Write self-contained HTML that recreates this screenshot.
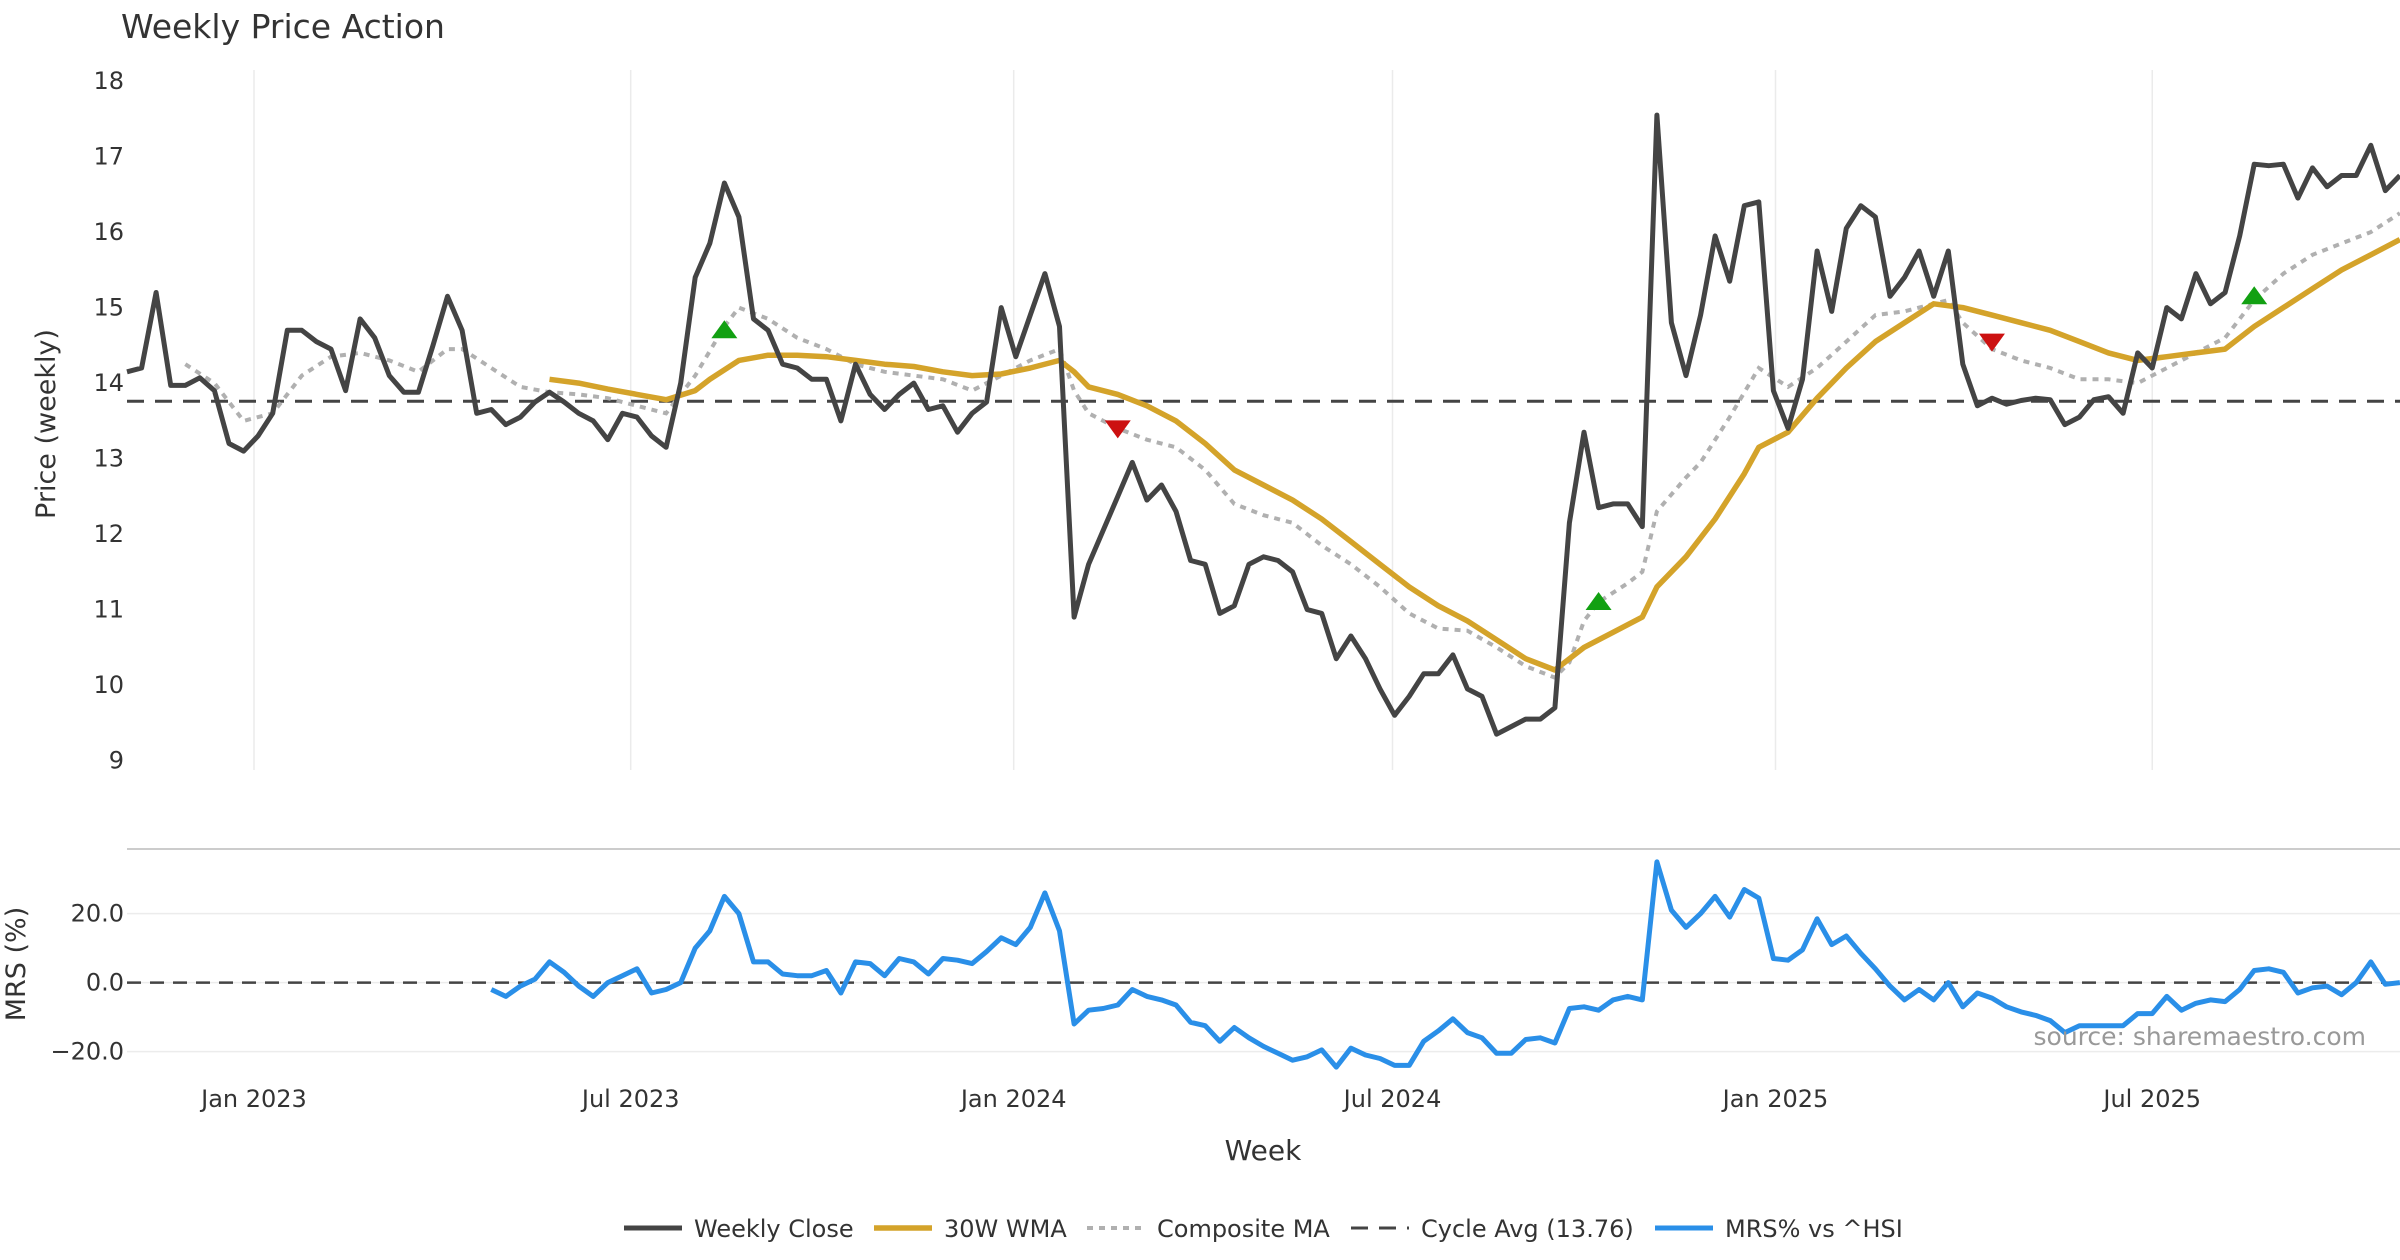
<!DOCTYPE html>
<html><head><meta charset="utf-8"><style>
html,body{margin:0;padding:0;background:#fff;}
svg{display:block;font-family:"DejaVu Sans","Liberation Sans",sans-serif;}
</style></head>
<body>
<svg id="chart" width="2400" height="1260" viewBox="0 0 2400 1260" xmlns="http://www.w3.org/2000/svg">
<text x="121" y="38" font-size="33" fill="#333">Weekly Price Action</text>
<text x="0" y="0" font-size="27" fill="#333" text-anchor="middle" transform="translate(55,424) rotate(-90)">Price (weekly)</text>
<text x="0" y="0" font-size="27" fill="#333" text-anchor="middle" transform="translate(25,964) rotate(-90)">MRS (%)</text>
<text x="1263" y="1160" font-size="28" fill="#333" text-anchor="middle">Week</text>
<line x1="127" y1="849" x2="2400" y2="849" stroke="#ccc" stroke-width="2"/>
<g id="grid"></g>
<g id="series"></g>
<text x="2366" y="1045" font-size="25" fill="#999" text-anchor="end">source: sharemaestro.com</text>
<g id="legend"></g>
</svg>
<script>
const closeVals=[14.15,14.2,15.2,13.97,13.97,14.07,13.9,13.2,13.1,13.3,13.6,14.7,14.7,14.55,14.45,13.9,14.85,14.6,14.1,13.88,13.88,14.5,15.15,14.7,13.6,13.65,13.45,13.55,13.75,13.88,13.75,13.6,13.5,13.25,13.6,13.55,13.3,13.15,14.0,15.4,15.85,16.65,16.2,14.85,14.7,14.25,14.2,14.05,14.05,13.5,14.25,13.85,13.65,13.85,14.0,13.65,13.7,13.35,13.6,13.75,15.0,14.35,14.9,15.45,14.75,10.9,11.6,12.05,12.5,12.95,12.45,12.65,12.3,11.65,11.6,10.95,11.05,11.6,11.7,11.65,11.5,11.0,10.95,10.35,10.65,10.35,9.95,9.6,9.85,10.15,10.15,10.4,9.95,9.85,9.35,9.45,9.55,9.55,9.7,12.15,13.35,12.35,12.4,12.4,12.1,17.55,14.8,14.1,14.9,15.95,15.35,16.35,16.4,13.9,13.4,14.05,15.75,14.95,16.05,16.35,16.2,15.15,15.4,15.75,15.15,15.75,14.25,13.7,13.8,13.72,13.77,13.8,13.78,13.45,13.55,13.78,13.82,13.6,14.4,14.2,15.0,14.85,15.45,15.05,15.2,15.95,16.9,16.88,16.9,16.45,16.85,16.6,16.75,16.75,17.15,16.55,16.75];
const wmaWeeks=[29,31,33,35,37,39,40,42,44,46,48,50,52,54,56,58,60,62,64,65,66,68,70,72,74,76,78,80,82,84,86,88,90,92,94,96,98,100,102,104,105,107,109,111,112,114,116,118,120,122,124,126,128,130,132,134,136,138,140,142,144,146,148,150,152,154,156];
const wmaVals=[14.05,14.0,13.92,13.85,13.78,13.9,14.05,14.3,14.37,14.37,14.35,14.3,14.25,14.22,14.15,14.1,14.12,14.2,14.3,14.15,13.95,13.85,13.7,13.5,13.2,12.85,12.65,12.45,12.2,11.9,11.6,11.3,11.05,10.85,10.6,10.35,10.2,10.5,10.7,10.9,11.3,11.7,12.2,12.8,13.15,13.35,13.8,14.2,14.55,14.8,15.05,15.0,14.9,14.8,14.7,14.55,14.4,14.3,14.35,14.4,14.45,14.75,15.0,15.25,15.5,15.7,15.9];
const compWeeks=[4,6,8,10,12,14,16,18,20,22,23,25,27,29,31,33,35,37,39,41,42,44,46,48,50,52,54,56,58,60,62,64,65,66,68,70,72,74,76,78,80,82,84,86,88,90,92,94,96,98,99,100,101,103,104,105,107,108,110,112,114,116,118,120,122,124,125,126,128,130,132,134,136,138,140,142,144,146,148,150,152,154,156];
const compVals=[14.25,14.0,13.5,13.6,14.1,14.35,14.4,14.3,14.15,14.45,14.45,14.2,13.95,13.88,13.85,13.8,13.7,13.6,14.1,14.75,15.0,14.85,14.6,14.45,14.25,14.15,14.1,14.05,13.9,14.1,14.3,14.45,13.9,13.6,13.4,13.25,13.15,12.85,12.4,12.25,12.15,11.85,11.6,11.3,10.95,10.75,10.72,10.5,10.25,10.1,10.3,10.85,11.1,11.35,11.5,12.3,12.75,12.95,13.55,14.2,13.95,14.2,14.55,14.9,14.95,15.05,15.1,14.8,14.45,14.3,14.2,14.05,14.05,14.0,14.2,14.4,14.6,15.1,15.45,15.7,15.85,16.0,16.25];
const mrsStart=25;
const mrsVals=[-2,-4,-1,1,6,3,-1,-4,0,2,4,-3,-2,0,10,15,25,20,6,6,2.5,2,2,3.5,-3,6,5.5,2,7,6,2.5,7,6.5,5.5,9,13,11,16,26,15,-12,-8,-7.5,-6.5,-2,-4,-5,-6.5,-11.5,-12.5,-17,-13,-16,-18.5,-20.5,-22.5,-21.5,-19.5,-24.5,-19,-21,-22,-24,-24,-17,-14,-10.5,-14.5,-16,-20.5,-20.5,-16.5,-16,-17.5,-7.5,-7,-8,-5,-4,-5,35,21,16,20,25,19,27,24.5,7,6.5,9.5,18.5,11,13.5,8.5,4,-1,-5,-2,-5,0,-7,-3,-4.5,-7,-8.5,-9.5,-11,-14.5,-12.5,-12.5,-12.5,-12.5,-9,-9,-4,-8,-6,-5,-5.5,-2,3.5,4,3,-3,-1.5,-1,-3.5,0,6,-0.5,0];
const buyWeeks=[41,101,146];
const buyVals=[14.7,11.1,15.15];
const sellWeeks=[68,128];
const sellVals=[13.4,14.55];
const cycleAvg=13.76;
const priceTicks=[9,10,11,12,13,14,15,16,17,18];
const mrsTicks=[-20,0,20];
const mrsTickLabels=["\u221220.0","0.0","20.0"];
const dateTickLabels=["Jan 2023","Jul 2023","Jan 2024","Jul 2024","Jan 2025","Jul 2025"];
const dateTickDates=["2023-01-01","2023-07-01","2024-01-01","2024-07-01","2025-01-01","2025-07-01"];
const startDate="2022-11-01";

const NS="http://www.w3.org/2000/svg";
const X0=127, STEP=14.57;
const x=i=>X0+i*STEP;
const yP=v=>81.1+(18-v)*75.5;
const yM=v=>982.6-v*3.45;
const dateIdx=d=>(new Date(d)-new Date(startDate))/(7*864e5);
function mk(tag,attrs,parent){const e=document.createElementNS(NS,tag);for(const k in attrs)e.setAttribute(k,attrs[k]);parent.appendChild(e);return e;}
const grid=document.getElementById('grid'), ser=document.getElementById('series'), leg=document.getElementById('legend');

dateTickDates.forEach((d,k)=>{
  const xx=x(dateIdx(d));
  const g=mk('line',{x1:xx,y1:70,x2:xx,y2:770,stroke:'#ebebeb','stroke-width':1.5},grid);
  
  
  const t=mk('text',{x:xx,y:1107,'font-size':24,fill:'#333','text-anchor':'middle'},grid);
  t.textContent=dateTickLabels[k];
  
  
});
priceTicks.forEach(v=>{
  const t=mk('text',{x:124,y:yP(v)+8,'font-size':24,fill:'#333','text-anchor':'end'},grid);
  t.textContent=v;
  
  
});
mrsTicks.forEach((v,k)=>{
  const g=mk('line',{x1:127,y1:yM(v),x2:2400,y2:yM(v),stroke:'#ececec','stroke-width':1.5},grid);
  
  
  const t=mk('text',{x:124,y:yM(v)+8,'font-size':24,fill:'#333','text-anchor':'end'},grid);
  t.textContent=mrsTickLabels[k];
  
  
});
const ca=mk('line',{x1:127,y1:yP(cycleAvg),x2:2400,y2:yP(cycleAvg),stroke:'#444','stroke-width':3,'stroke-dasharray':'17,11'},ser);


const mz=mk('line',{x1:127,y1:yM(0),x2:2400,y2:yM(0),stroke:'#444','stroke-width':2.5,'stroke-dasharray':'14,9'},ser);



function path(idxs,vals,yf){return idxs.map((i,k)=>(k?'L':'M')+x(i).toFixed(1)+','+yf(vals[k]).toFixed(1)).join('');}
const comp=mk('path',{d:path(compWeeks,compVals,yP),fill:'none',stroke:'#b0b0b0','stroke-width':4,'stroke-dasharray':'6,6'},ser);


const wma=mk('path',{d:path(wmaWeeks,wmaVals,yP),fill:'none',stroke:'#d4a32a','stroke-width':5.5,'stroke-linejoin':'round'},ser);


const cl=mk('path',{d:path(closeVals.map((_,i)=>i),closeVals,yP),fill:'none',stroke:'#444','stroke-width':5,'stroke-linejoin':'round'},ser);


const mr=mk('path',{d:path(mrsVals.map((_,i)=>i+mrsStart),mrsVals,yM),fill:'none',stroke:'#2a8fe8','stroke-width':5,'stroke-linejoin':'round'},ser);


buyWeeks.forEach((w,k)=>{
  const cx=x(w), cy=yP(buyVals[k]);
  const p=mk('polygon',{points:`${cx-13},${cy+8} ${cx+13},${cy+8} ${cx},${cy-10}`,fill:'#12a012'},ser);
  
  
});
sellWeeks.forEach((w,k)=>{
  const cx=x(w), cy=yP(sellVals[k]);
  const p=mk('polygon',{points:`${cx-13},${cy-8} ${cx+13},${cy-8} ${cx},${cy+10}`,fill:'#cc1111'},ser);
  
  
});
const legItems=[
 {x:624,label:'Weekly Close',stroke:'#444',dash:'',w:5},
 {x:874,label:'30W WMA',stroke:'#d4a32a',dash:'',w:5.5},
 {x:1087,label:'Composite MA',stroke:'#b0b0b0',dash:'6,6',w:4},
 {x:1351,label:'Cycle Avg (13.76)',stroke:'#444',dash:'17,11',w:3},
 {x:1655,label:'MRS% vs ^HSI',stroke:'#2a8fe8',dash:'',w:5}
];
legItems.forEach(it=>{
  const g=mk('g',{},leg);
  
  
  mk('line',{x1:it.x,y1:1228,x2:it.x+58,y2:1228,stroke:it.stroke,'stroke-width':it.w,'stroke-dasharray':it.dash},g);
  const t=mk('text',{x:it.x+70,y:1237,'font-size':24,fill:'#333'},g);
  t.textContent=it.label;
});
</script>
</body></html>
